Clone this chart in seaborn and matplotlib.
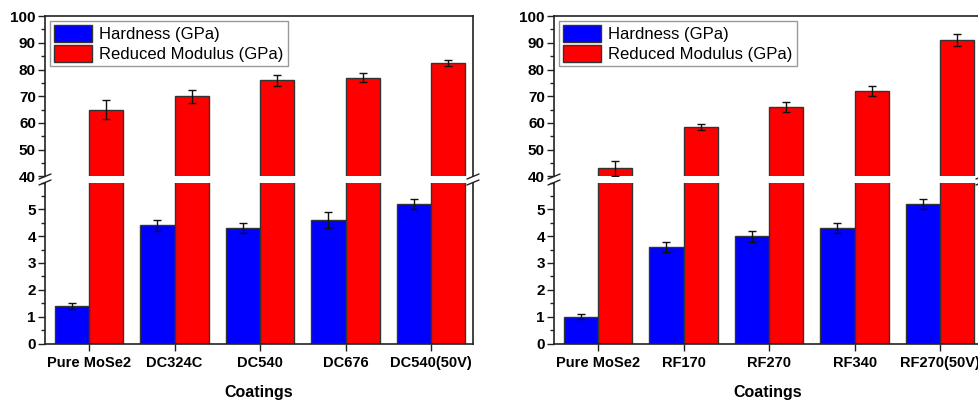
import numpy as np
import pandas as pd
import matplotlib
matplotlib.use('Agg')
import matplotlib.pyplot as plt
import seaborn as sns
from matplotlib.ticker import MultipleLocator
from matplotlib.lines import Line2D

# ---------------- data ----------------
series_names = ['Hardness (GPa)', 'Reduced Modulus (GPa)']

coatings_dc = ['Pure MoSe2', 'DC324C', 'DC540', 'DC676', 'DC540(50V)']
hard_dc = [1.4, 4.4, 4.3, 4.6, 5.2]
hard_dc_err = [0.1, 0.2, 0.2, 0.3, 0.2]
mod_dc = [65.0, 70.0, 76.0, 77.0, 82.5]
mod_dc_err = [3.5, 2.5, 2.0, 1.6, 1.2]

coatings_rf = ['Pure MoSe2', 'RF170', 'RF270', 'RF340', 'RF270(50V)']
hard_rf = [1.0, 3.6, 4.0, 4.3, 5.2]
hard_rf_err = [0.1, 0.2, 0.2, 0.2, 0.2]
mod_rf = [43.0, 58.5, 66.0, 72.0, 91.0]
mod_rf_err = [2.8, 1.2, 2.0, 2.0, 2.2]

# ---------------- style ----------------
sns.set_style('ticks')
plt.rcParams['font.family'] = ['Liberation Sans', 'DejaVu Sans']
plt.rcParams['text.color'] = 'black'
plt.rcParams['axes.labelcolor'] = 'black'
plt.rcParams['xtick.color'] = 'black'
plt.rcParams['ytick.color'] = 'black'

W, H = 979, 401
fig = plt.figure(figsize=(W / 100, H / 100), dpi=100)
SPINE = '#222222'
palette = ['#0000ff', '#ff0000']


def frac_x(px):
    return px / W


def frac_y(py):
    return 1 - py / H


def draw_bars(ax, coatings, hard, herr, mod, merr, legend):
    df = pd.DataFrame({
        'Coating': coatings * 2,
        'Property': [series_names[0]] * len(coatings) + [series_names[1]] * len(coatings),
        'Value': list(hard) + list(mod),
    })
    sns.barplot(data=df, x='Coating', y='Value', hue='Property', order=coatings,
                hue_order=series_names, palette=palette, saturation=1, width=0.8,
                edgecolor='#333333', linewidth=1.0, errorbar=None,
                legend=legend, ax=ax, zorder=2)
    errs = [herr, merr]
    for cont, err in zip(ax.containers, errs):
        for bar, e in zip(cont, err):
            x = bar.get_x() + bar.get_width() / 2
            ax.errorbar(x, bar.get_height(), yerr=e, fmt='none', ecolor='#111111',
                        elinewidth=1.0, capsize=3.2, capthick=1.0, zorder=3)


def panel(left_px, right_px, coatings, hard, herr, mod, merr):
    left = frac_x(left_px)
    width = frac_x(right_px - left_px)
    up_top, up_bot = 16.0, 176.5
    lo_top, lo_bot = 182.5, 343.5
    ax_up = fig.add_axes([left, frac_y(up_bot), width, (up_bot - up_top) / H])
    ax_lo = fig.add_axes([left, frac_y(lo_bot), width, (lo_bot - lo_top) / H])

    draw_bars(ax_up, coatings, hard, herr, mod, merr, legend=True)
    draw_bars(ax_lo, coatings, hard, herr, mod, merr, legend=False)

    for ax in (ax_up, ax_lo):
        ax.set_xlim(-0.515, 4.49)
        ax.set_ylabel('')
        ax.set_xlabel('')
        for s in ax.spines.values():
            s.set_color(SPINE)
            s.set_linewidth(1.2)
        ax.tick_params(axis='y', which='major', direction='out', length=5, width=1,
                       color=SPINE, labelsize=11, pad=1.5)
        ax.tick_params(axis='y', which='minor', direction='out', length=3, width=1,
                       color=SPINE)

    ax_up.set_ylim(40, 100)
    ax_up.yaxis.set_major_locator(MultipleLocator(10))
    ax_up.yaxis.set_minor_locator(MultipleLocator(5))
    ax_up.spines['bottom'].set_visible(False)
    ax_up.tick_params(axis='x', which='both', bottom=False, labelbottom=False)
    for lab in ax_up.get_yticklabels():
        lab.set_fontweight('bold')

    ax_lo.set_ylim(0, 6)
    ax_lo.yaxis.set_major_locator(MultipleLocator(1))
    ax_lo.yaxis.set_minor_locator(MultipleLocator(0.5))
    ax_lo.set_yticks([0, 1, 2, 3, 4, 5])
    ax_lo.spines['top'].set_visible(False)
    ax_lo.tick_params(axis='x', which='major', direction='out', length=5, width=1,
                      color=SPINE, labelsize=10.5, pad=4)
    for lab in ax_lo.get_xticklabels():
        lab.set_fontweight('bold')
    for lab in ax_lo.get_yticklabels():
        lab.set_fontweight('bold')
    ax_lo.set_xlabel('Coatings', fontsize=11.5, fontweight='bold', labelpad=11)

    leg = ax_up.legend(loc='upper left', frameon=True, fancybox=False,
                       edgecolor='#999999', framealpha=1, handlelength=2.3,
                       handleheight=1.2, labelspacing=0.15, borderaxespad=0.3,
                       borderpad=0.25, handletextpad=0.4, fontsize=12)
    leg.get_frame().set_linewidth(1.0)

    # axis-break marks on both vertical spines
    axw = right_px - left_px
    axh_up = up_bot - up_top
    axh_lo = lo_bot - lo_top
    dxp, dyp = 6.0, 2.5
    for xs in (0.0, 1.0):
        ax_up.add_line(Line2D([xs - dxp / axw, xs + dxp / axw],
                              [0 - dyp / axh_up, 0 + dyp / axh_up],
                              transform=ax_up.transAxes, color=SPINE, lw=1.0,
                              clip_on=False))
        ax_lo.add_line(Line2D([xs - dxp / axw, xs + dxp / axw],
                              [1 - dyp / axh_lo, 1 + dyp / axh_lo],
                              transform=ax_lo.transAxes, color=SPINE, lw=1.0,
                              clip_on=False))


panel(45, 473, coatings_dc, hard_dc, hard_dc_err, mod_dc, mod_dc_err)
panel(554, 982, coatings_rf, hard_rf, hard_rf_err, mod_rf, mod_rf_err)

fig.savefig('out.png', dpi=100)
